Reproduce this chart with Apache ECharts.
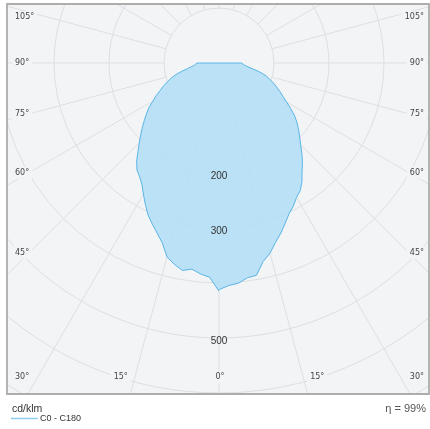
<!DOCTYPE html>
<html><head><meta charset="utf-8">
<script src="https://cdn.jsdelivr.net/npm/echarts@6/dist/echarts.min.js"></script>
<style>html,body{margin:0;padding:0;background:#fff}#c{width:430px;height:429px}</style>
</head><body><div id="c"></div>
<script>
// ---- data ----
const gammaAngles = [0,2.5,5,7.5,10,12.5,15,17.5,20,22.5,25,27.5,30,32.5,35,37.5,40,42.5,45,47.5,50,52.5,55,57.5,60,62.5,65,67.5,70,72.5,75,77.5,80,82.5,85,87.5,90,180];
const c180Values = [415,390,385,378,383,375,365,343,329,317,305,290,275,261,252,245,233,218,205,193,182,171,161,151,139,129,118,109,100,91,81,69,58,50,45,42,40,0];
const c0Values   = [412,405,402,394,392,370,358,342,329,315,302,293,282,275,263,248,236,223,210,199,189,179,168,155,142,131,122,113,105,96,88,76,63,53,47,43,41,0];
const radiusLabels = [200,300,500];
const angleTicks = [105,90,75,60,45,30,15,0];
const seriesName = 'C0 - C180';
const unitLabel = 'cd/klm';
const efficiencyLabel = 'η = 99%';
const radiusMax = 700;

// ---- layout ----
const CX = 219, CY = 63, R = 385, R_INNER = 55;
const FRAME = {x:7, y:4, w:422, h:390};
const BG = '#f3f4f6';
const GRID = '#dddfe2';

const curve = [];
gammaAngles.forEach((g,i)=>curve.push([c180Values[i], g]));
for (let i = gammaAngles.length-1; i >= 0; i--) curve.push([c0Values[i], 360 - gammaAngles[i]]);

const chart = echarts.init(document.getElementById('c'), null, {renderer:'canvas'});
const option = {
  animation: false,
  backgroundColor: BG,
  polar: [
    {center:[CX, CY], radius:[0, R]},
    {center:[CX, CY], radius:[R_INNER, R]}
  ],
  angleAxis: [
    {polarIndex:0, type:'value', min:0, max:360, interval:15, startAngle:270, clockwise:true,
     axisLine:{show:false}, axisTick:{show:false}, axisLabel:{show:false}, splitLine:{show:false}},
    {polarIndex:1, type:'value', min:0, max:360, interval:15, startAngle:270, clockwise:true,
     axisLine:{show:false}, axisTick:{show:false}, axisLabel:{show:false},
     splitLine:{show:true, lineStyle:{color:GRID, width:1}}}
  ],
  radiusAxis: [
    {polarIndex:0, type:'value', min:0, max:radiusMax, interval:100,
     axisLine:{show:false}, axisTick:{show:false}, axisLabel:{show:false},
     splitLine:{show:true, lineStyle:{color:GRID, width:1}}},
    {polarIndex:1, type:'value', min:0, max:1, show:false, splitLine:{show:false}}
  ],
  legend: {
    data:[{name:seriesName, itemStyle:{color:'#8fcdf0'}}], left:11, top:414, z:200, icon:'rect', itemWidth:27, itemHeight:1.5,
    itemGap:0, textStyle:{fontFamily:'Liberation Sans', fontSize:9, color:'#333', padding:[0,0,0,-3]}, padding:0
  },
  series: [{
    name: seriesName, type:'line', coordinateSystem:'polar', polarIndex:0,
    showSymbol:false, smooth:false, data: curve,
    itemStyle:{color:'#8fcdf0'},
    lineStyle:{color:'#5ab5e6', width:1},
    areaStyle:{color:'#b3def6', opacity:0.88}
  }]
};
chart.setOption(option);

// ---- texts placed through the polar scale ----
const toPx = (r, a) => chart.convertToPixel({seriesIndex:0}, [r, a]);
const ctr = toPx(0, 0);
const g = [];
const W = 430, H = 429;
g.push({type:'rect', z:100, silent:true, shape:{x:0,y:0,width:W,height:FRAME.y}, style:{fill:'#fff'}});
g.push({type:'rect', z:100, silent:true, shape:{x:0,y:0,width:FRAME.x,height:H}, style:{fill:'#fff'}});
g.push({type:'rect', z:100, silent:true, shape:{x:0,y:FRAME.y+FRAME.h,width:W,height:H}, style:{fill:'#fff'}});
g.push({type:'rect', z:100, silent:true, shape:{x:FRAME.x+FRAME.w,y:0,width:10,height:H}, style:{fill:'#fff'}});
g.push({type:'rect', z:101, silent:true, shape:{x:FRAME.x,y:FRAME.y,width:FRAME.w,height:FRAME.h}, style:{fill:null, stroke:'#adadad', lineWidth:1.8}});

const angleFont = '8px "DejaVu Sans"';
const YMIN = 17, YMAX = 377;
angleTicks.forEach(t => {
  [-1, 1].forEach(side => {
    if (t === 0 && side > 0) return;
    const a = side < 0 ? t : 360 - t;
    const p = toPx(radiusMax, a);
    const dx = p[0]-ctr[0], dy = p[1]-ctr[1];
    let x, y, align;
    let yAt = Infinity;
    if (Math.abs(dx) > 1e-6) yAt = ctr[1] + dy * (190/Math.abs(dx));
    if (t !== 0 && yAt <= 400) {
      y = Math.min(Math.max(yAt, YMIN), YMAX);
      x = side < 0 ? 12 : 427; align = side < 0 ? 'left' : 'right';
    } else {
      y = YMAX;
      const xb = ctr[0] + dx * ((YMAX - ctr[1]) / dy);
      if (t === 0) { x = xb + 1; align = 'center'; }
      else { x = xb + side*4; align = side < 0 ? 'right' : 'left'; }
    }
    g.push({type:'text', z:50, silent:true,
      style:{text: t + '°', x, y, align, verticalAlign:'middle', font: angleFont, fill:'#444',
             backgroundColor: BG, padding:[2,3]}});
  });
});
radiusLabels.forEach(v => {
  const p = toPx(v, 0);
  g.push({type:'text', z:50, silent:true,
    style:{text:String(v), x:p[0], y:p[1]+3, align:'center', verticalAlign:'middle',
           font:'10px "Liberation Sans"', fill:'#333'}});
});
g.push({type:'text', z:200, silent:true, style:{text:unitLabel, x:12, y:409, align:'left', verticalAlign:'middle', font:'10.5px "Liberation Sans"', fill:'#333'}});
g.push({type:'text', z:200, silent:true, style:{text:efficiencyLabel, x:426, y:409, align:'right', verticalAlign:'middle', font:'11px "Liberation Sans"', fill:'#555'}});
chart.setOption({graphic: g});
</script>
</body></html>
